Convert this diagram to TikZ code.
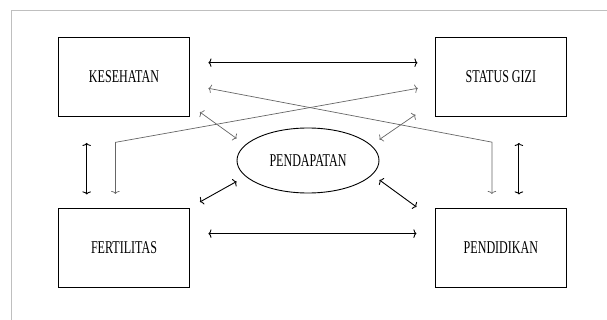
\documentclass[tikz,border=0pt]{standalone}
\usepackage{fontspec}
\setmainfont{Liberation Serif}
\newfontfamily\narrowserif[FakeStretch=0.67]{Liberation Serif}
\usetikzlibrary{positioning}
\usetikzlibrary{shapes.geometric}
\usetikzlibrary{arrows.meta}

\tikzset{
  faktor/.style={draw, line width=0.9pt, minimum width=131pt, minimum height=79pt, font=\narrowserif\fontsize{18}{20}\selectfont},
  pusat/.style={draw, ellipse, line width=0.9pt, minimum width=142pt, minimum height=65pt, font=\narrowserif\fontsize{18}{20}\selectfont},
  hitam/.style={{To[length=3pt,width=8.5pt]}-{To[length=3pt,width=8.5pt]}, line width=0.9pt},
  abu/.style={{To[length=3pt,width=8.5pt]}-{To[length=3pt,width=8.5pt]}, line width=0.7pt, draw=black!60}
}

\begin{document}
\begin{tikzpicture}[x=1pt,y=-1pt]
		\useasboundingbox (0,0) rectangle (607,320);
		\draw [black!25, line width=0.6pt] (11.6,320) -- (11.6,10.7) -- (607,10.7);
		\node [faktor] at (124,77) (kes) {KESEHATAN};
		\node [faktor, right=245pt of kes] (gizi) {STATUS GIZI};
		\node [faktor, below=91pt of kes] (fert) {FERTILITAS};
		\node [faktor, below=91pt of gizi] (didik) {PENDIDIKAN};
		\node [pusat] at (308,160.5) (dapat) {PENDAPATAN};
		% sisi luar
		\draw [hitam] ([shift={(18.5pt,14.3pt)}]kes.east) -- ([shift={(-17.5pt,14.3pt)}]gizi.west);
		\draw [hitam] ([shift={(18.5pt,14.3pt)}]fert.east) -- ([shift={(-18.5pt,14.3pt)}]didik.west);
		\draw [hitam] ([shift={(-37.3pt,-26pt)}]kes.south) -- ([shift={(-37.3pt,13.5pt)}]fert.north);
		\draw [hitam] ([shift={(18pt,-26pt)}]gizi.south) -- ([shift={(18pt,13.5pt)}]didik.north);
		% ke pendapatan
		\draw [abu] ([shift={(10pt,4.8pt)}]kes.south east) -- ([yshift=22pt]dapat.west);
		\draw [abu] ([shift={(-19.5pt,2.2pt)}]gizi.south west) -- ([yshift=21pt]dapat.east);
		\draw [hitam] ([shift={(10pt,6pt)}]fert.north east) -- ([yshift=-21pt]dapat.west);
		\draw [hitam] ([shift={(-18.5pt,1pt)}]didik.north west) -- ([yshift=-19.5pt]dapat.east);
		% silang
		\draw [abu] ([shift={(18.5pt,-11.3pt)}]kes.east) -- ([shift={(-9pt,65.8pt)}]didik.north) -- ([shift={(-9pt,14pt)}]didik.north);
		\draw [abu] ([shift={(-8.6pt,14pt)}]fert.north) -- ([shift={(-8.6pt,65.6pt)}]fert.north) -- ([shift={(-17.2pt,-11.3pt)}]gizi.west);
		\end{tikzpicture}
\end{document}
